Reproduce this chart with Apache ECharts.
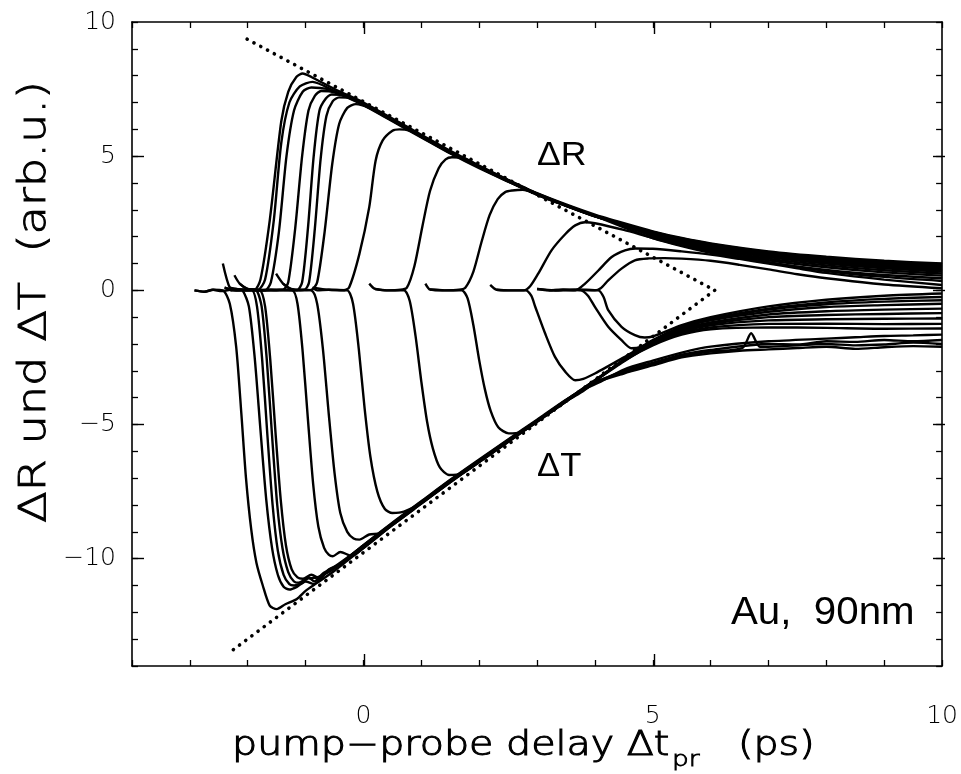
<!DOCTYPE html>
<html><head><meta charset="utf-8">
<script src="https://cdn.jsdelivr.net/npm/echarts@6/dist/echarts.min.js"></script>
<style>html,body{margin:0;padding:0;background:#fff}#c{width:961px;height:774px}</style>
</head><body><div id="c"></div>
<script>
// ---- tick labels ----
const xMajorTicks = [0, 5];
const xTickLabels = [0, 5, 10];
const yMajorTicks = [-10, -5, 0, 5];
const yTickLabels = [-10, -5, 0, 5, 10];

// ---- dotted guide lines (delta R / delta T maxima) ----
const dotR = [[-2.01, 9.36], [6.07, 0]];
const dotT = [[6.07, 0], [-2.26, -13.41]];

// ---- delta R curves ----
const R01 = [[-2.92,0],[-2.75,-0.05],[-2.6,0.02],[-2.45,-0.03],[-2.3,0.02],[-2.1,0],[-1.88,0.02],[-1.78,0.4],[-1.62,2.6],[-1.42,6.3],[-1.3,7.4],[-1.16,7.95],[-1.05,8.08],[-0.9,7.95],[-0.5,7.5],[0,7.0],[0.5,6.4],[1,5.8],[1.5,5.2],[2,4.65],[2.5,4.12],[3,3.62],[3.5,3.2],[4,2.82],[4.5,2.5],[5,2.2],[5.5,1.95],[6,1.75],[7,1.45],[8,1.25],[9,1.1],[10,1.0]];
const R02 = [[-2.43,1.0],[-2.31,0.1],[-2.2,0.05],[-2.0,0],[-1.82,0.02],[-1.7,0.4],[-1.55,2.6],[-1.42,5.5],[-1.28,7.0],[-1.1,7.6],[-0.88,7.77],[-0.5,7.42],[0,6.92],[0.5,6.32],[1,5.72],[1.5,5.12],[2,4.58],[2.5,4.06],[3,3.58],[3.5,3.17],[4,2.78],[4.5,2.46],[5,2.18],[5.5,1.93],[6,1.73],[7,1.42],[8,1.21],[9,1.06],[10,0.95]];
const R03 = [[-2.4,0.1],[-2.2,0],[-1.95,0.02],[-1.7,0],[-1.6,0.3],[-1.46,2.2],[-1.33,5.0],[-1.2,6.7],[-1.05,7.4],[-0.9,7.56],[-0.6,7.5],[-0.5,7.4],[0,6.9],[0.5,6.3],[1,5.7],[1.5,5.1],[2,4.55],[2.5,4.05],[3,3.56],[3.5,3.15],[4,2.76],[4.5,2.45],[5,2.17],[5.5,1.91],[6,1.7],[7,1.38],[8,1.17],[9,1.01],[10,0.9]];
const R04 = [[-2.23,0.56],[-2.14,0.25],[-2.0,0.05],[-1.7,0],[-1.39,0.02],[-1.3,0.3],[-1.18,2.3],[-1.06,5.0],[-0.95,6.7],[-0.84,7.25],[-0.73,7.43],[-0.5,7.38],[0,6.95],[0.5,6.35],[1,5.75],[1.5,5.15],[2,4.6],[2.5,4.08],[3,3.58],[3.5,3.16],[4,2.77],[4.5,2.45],[5,2.15],[5.5,1.89],[6,1.67],[7,1.35],[8,1.13],[9,0.96],[10,0.85]];
const R05 = [[-2.3,0],[-2.0,0.03],[-1.6,0],[-1.3,0.02],[-1.15,0],[-1.06,0.3],[-0.96,2.3],[-0.86,5.0],[-0.76,6.7],[-0.65,7.15],[-0.55,7.3],[-0.3,7.25],[0,6.97],[0.5,6.37],[1,5.77],[1.5,5.17],[2,4.62],[2.5,4.1],[3,3.6],[3.5,3.18],[4,2.79],[4.5,2.47],[5,2.13],[5.5,1.87],[6,1.65],[7,1.32],[8,1.09],[9,0.92],[10,0.8]];
const R06 = [[-1.9,0],[-1.6,0.02],[-1.3,0],[-1.02,0.02],[-0.94,0.3],[-0.84,2.3],[-0.74,4.9],[-0.64,6.5],[-0.53,7.05],[-0.42,7.19],[-0.2,7.15],[0,6.95],[0.5,6.33],[1,5.73],[1.5,5.13],[2,4.58],[2.5,4.07],[3,3.57],[3.5,3.15],[4,2.76],[4.5,2.44],[5,2.1],[5.5,1.84],[6,1.62],[7,1.28],[8,1.05],[9,0.87],[10,0.75]];
const R07 = [[-1.51,0.62],[-1.39,0.25],[-1.25,0.05],[-1.1,0],[-0.9,0.02],[-0.8,0.3],[-0.67,2.2],[-0.54,4.7],[-0.42,6.2],[-0.28,6.8],[-0.13,6.94],[0.1,6.8],[0.5,6.36],[1,5.76],[1.5,5.16],[2,4.61],[2.5,4.09],[3,3.59],[3.5,3.17],[4,2.78],[4.5,2.45],[5,2.07],[5.5,1.8],[6,1.58],[7,1.24],[8,1.0],[9,0.82],[10,0.7]];
const R08 = [[-0.88,0.1],[-0.8,0],[-0.6,0.02],[-0.36,0],[-0.25,0.1],[-0.07,1.36],[0.1,3.1],[0.21,4.83],[0.33,5.58],[0.5,5.95],[0.62,6.0],[0.8,5.95],[1,5.75],[1.5,5.15],[2,4.6],[2.5,4.08],[3,3.58],[3.5,3.16],[4,2.77],[4.5,2.43],[5,2.02],[5.5,1.75],[6,1.53],[7,1.18],[8,0.93],[9,0.75],[10,0.63]];
const R09 = [[0.1,0.25],[0.2,0.05],[0.4,0],[0.64,0.02],[0.75,0.1],[0.88,0.9],[1.02,2.4],[1.15,3.7],[1.3,4.55],[1.42,4.88],[1.53,4.96],[1.7,4.95],[2,4.62],[2.5,4.1],[3,3.6],[3.5,3.18],[4,2.79],[4.5,2.4],[5,2.05],[5.5,1.75],[6,1.48],[7,1.12],[8,0.86],[9,0.67],[10,0.55]];
const R10 = [[1.07,0.25],[1.15,0.03],[1.4,0],[1.65,0.02],[1.76,0.1],[1.9,0.7],[2.04,1.8],[2.18,2.8],[2.32,3.4],[2.45,3.66],[2.57,3.72],[2.75,3.75],[3,3.6],[3.5,3.17],[4,2.77],[4.5,2.35],[5,1.95],[5.5,1.65],[6,1.4],[7,1.03],[8,0.76],[9,0.57],[10,0.45]];
const R11 = [[2.19,0.2],[2.3,0.02],[2.5,0],[2.77,0],[2.88,0.15],[3.02,0.62],[3.25,1.49],[3.49,2.1],[3.66,2.42],[3.83,2.54],[4.0,2.5],[4.5,2.25],[5,1.95],[5.5,1.68],[6,1.45],[7,1.05],[8,0.72],[9,0.5],[10,0.35]];
const R12 = [[3.0,0.05],[3.2,0],[3.45,0.02],[3.66,0],[3.83,0.25],[4.06,0.74],[4.29,1.24],[4.52,1.49],[4.7,1.56],[5,1.55],[5.5,1.45],[6,1.33],[6.5,1.17],[7,1.0],[7.5,0.82],[8,0.65],[9,0.4],[10,0.2]];
const R13 = [[3.0,0.05],[3.3,0],[3.7,0.02],[4.0,0],[4.1,0.08],[4.23,0.37],[4.46,0.81],[4.69,1.12],[4.93,1.19],[5.2,1.2],[5.5,1.18],[6,1.1],[6.5,0.95],[7,0.78],[7.5,0.6],[8,0.45],[9,0.22],[10,0.08]];

// ---- delta T curves ----
const T01 = [[-2.92,0],[-2.75,-0.05],[-2.6,0.02],[-2.43,0],[-2.31,-0.5],[-2.2,-2.1],[-2.11,-4.6],[-2.03,-7.0],[-1.94,-8.9],[-1.85,-10.15],[-1.74,-11.0],[-1.62,-11.75],[-1.5,-11.88],[-1.35,-11.7],[-1.15,-11.5],[-1.0,-11.2],[-0.8,-10.9],[-0.5,-10.45],[0,-9.6],[0.5,-8.75],[1,-7.95],[1.5,-7.15],[2,-6.4],[2.5,-5.65],[3,-4.9],[3.5,-4.15],[3.8,-3.75],[4.0,-3.45],[4.5,-3.1],[5,-2.8],[5.5,-2.5],[6,-2.35],[6.5,-2.25],[7,-2.2],[7.5,-2.15],[8,-2.1],[8.5,-2.18],[9,-2.12],[9.5,-2.08],[10,-2.1]];
const T02 = [[-2.31,0.1],[-2.2,0.05],[-2.09,0],[-1.98,-0.6],[-1.88,-2.5],[-1.78,-5.2],[-1.68,-7.8],[-1.58,-9.6],[-1.48,-10.6],[-1.38,-11.05],[-1.28,-11.15],[-1.15,-11.05],[-1.0,-10.85],[-0.85,-10.95],[-0.7,-10.6],[-0.5,-10.35],[0,-9.5],[0.5,-8.68],[1,-7.88],[1.5,-7.08],[2,-6.33],[2.5,-5.58],[3,-4.85],[3.5,-4.1],[3.8,-3.7],[4.0,-3.42],[4.5,-3.05],[5,-2.75],[5.5,-2.45],[6,-2.28],[6.55,-2.15],[6.7,-1.6],[6.85,-2.1],[7,-2.1],[8,-2.0],[8.5,-2.05],[9,-2.02],[9.5,-1.95],[10,-2.0]];
const T03 = [[-2.4,0.1],[-2.2,0],[-1.93,0],[-1.84,-0.6],[-1.75,-2.6],[-1.66,-5.4],[-1.57,-8.0],[-1.48,-9.7],[-1.38,-10.6],[-1.28,-10.95],[-1.2,-11.0],[-1.05,-10.9],[-0.95,-10.7],[-0.85,-10.85],[-0.7,-10.55],[-0.5,-10.3],[0,-9.52],[0.5,-8.72],[1,-7.9],[1.5,-7.12],[2,-6.36],[2.5,-5.62],[3,-4.86],[3.5,-4.12],[3.8,-3.72],[4.0,-3.45],[4.5,-3.0],[5,-2.7],[5.5,-2.4],[6,-2.22],[7,-2.0],[7.5,-2.02],[8,-1.9],[8.5,-1.92],[9,-1.85],[9.5,-1.9],[10,-1.85]];
const T04 = [[-2.14,0.25],[-2.0,0.05],[-1.85,0],[-1.76,-0.6],[-1.67,-2.6],[-1.58,-5.4],[-1.49,-8.0],[-1.4,-9.6],[-1.3,-10.5],[-1.2,-10.85],[-1.12,-10.9],[-0.98,-10.75],[-0.8,-10.7],[-0.6,-10.5],[-0.3,-10.05],[0,-9.58],[0.5,-8.7],[1,-7.92],[1.5,-7.1],[2,-6.35],[2.5,-5.6],[3,-4.85],[3.5,-4.1],[4,-3.35],[4.5,-2.62],[5,-2.05],[5.5,-1.65],[6,-1.45],[7,-1.38],[8,-1.4],[9,-1.43],[10,-1.42]];
const T05 = [[-2.3,0],[-2.0,0.03],[-1.79,0],[-1.7,-0.6],[-1.61,-2.6],[-1.52,-5.3],[-1.43,-7.8],[-1.34,-9.5],[-1.24,-10.4],[-1.14,-10.7],[-1.05,-10.75],[-0.9,-10.6],[-0.75,-10.75],[-0.6,-10.4],[-0.4,-10.2],[0,-9.5],[0.5,-8.66],[1,-7.86],[1.5,-7.06],[2,-6.3],[2.5,-5.56],[3,-4.82],[3.5,-4.08],[3.8,-3.7],[4.1,-3.4],[4.5,-2.95],[5,-2.62],[5.5,-2.32],[6,-2.1],[7,-1.9],[8,-1.8],[8.5,-1.75],[9,-1.7],[9.5,-1.68],[10,-1.65]];
const T06 = [[-1.9,0],[-1.6,0.02],[-1.23,0],[-1.14,-0.5],[-1.05,-2.3],[-0.96,-4.8],[-0.87,-7.2],[-0.78,-8.8],[-0.68,-9.6],[-0.6,-9.85],[-0.53,-9.91],[-0.4,-9.75],[-0.2,-9.9],[0,-9.6],[0.5,-8.75],[1,-7.95],[1.5,-7.15],[2,-6.38],[2.5,-5.63],[3,-4.88],[3.5,-4.13],[4,-3.38],[4.5,-2.65],[5,-2.02],[5.5,-1.6],[6,-1.38],[7,-1.25],[8,-1.24],[9,-1.26],[10,-1.25]];
const T07 = [[-1.39,0.25],[-1.25,0.05],[-0.9,0],[-0.8,-0.5],[-0.7,-2.2],[-0.6,-4.6],[-0.5,-6.8],[-0.4,-8.3],[-0.28,-9.0],[-0.17,-9.25],[-0.07,-9.29],[0.1,-9.1],[0.3,-9.05],[0.5,-8.7],[1,-7.9],[1.5,-7.1],[2,-6.35],[2.5,-5.6],[3,-4.85],[3.5,-4.1],[4,-3.35],[4.5,-2.62],[5,-2.0],[5.5,-1.55],[6,-1.3],[7,-1.12],[8,-1.08],[9,-1.06],[10,-1.05]];
const T08 = [[-0.88,0.1],[-0.6,0.02],[-0.28,0],[-0.18,-0.5],[-0.08,-2.2],[0.02,-4.4],[0.12,-6.2],[0.24,-7.5],[0.37,-8.15],[0.5,-8.3],[0.7,-8.25],[1,-7.92],[1.5,-7.12],[2,-6.37],[2.5,-5.62],[3,-4.87],[3.5,-4.12],[4,-3.37],[4.5,-2.6],[5,-1.98],[5.5,-1.5],[6,-1.25],[7,-1.0],[8,-0.92],[9,-0.88],[10,-0.85]];
const T09 = [[0.2,0.05],[0.4,0],[0.7,0],[0.8,-0.4],[0.9,-1.7],[1.0,-3.4],[1.1,-4.9],[1.2,-5.9],[1.32,-6.6],[1.48,-6.88],[1.7,-6.82],[2,-6.4],[2.5,-5.64],[3,-4.88],[3.5,-4.13],[4,-3.38],[4.5,-2.6],[5,-1.95],[5.5,-1.45],[6,-1.2],[7,-0.9],[8,-0.78],[9,-0.72],[10,-0.68]];
const T10 = [[1.15,0.03],[1.4,0],[1.7,0],[1.8,-0.3],[1.9,-1.3],[2.0,-2.6],[2.1,-3.7],[2.2,-4.5],[2.33,-5.1],[2.51,-5.33],[2.7,-5.3],[3,-4.9],[3.5,-4.14],[4,-3.38],[4.5,-2.58],[5,-1.9],[5.5,-1.4],[6,-1.12],[7,-0.8],[8,-0.62],[9,-0.55],[10,-0.5]];
const T11 = [[2.3,0.02],[2.5,0],[2.8,0],[2.9,-0.2],[2.97,-0.62],[3.14,-1.61],[3.31,-2.48],[3.49,-3.04],[3.66,-3.35],[3.8,-3.3],[4.0,-3.1],[4.5,-2.5],[5,-1.88],[5.5,-1.38],[6,-1.1],[7,-0.72],[8,-0.52],[9,-0.42],[10,-0.37]];
const T12 = [[3.2,0],[3.45,0.02],[3.76,0],[3.88,-0.2],[4.0,-0.62],[4.23,-1.36],[4.46,-1.86],[4.63,-2.16],[4.8,-2.1],[5,-1.85],[5.5,-1.35],[6,-1.05],[7,-0.68],[8,-0.45],[9,-0.32],[10,-0.25]];
const T13 = [[3.3,0],[3.7,0.02],[4.06,0],[4.15,-0.25],[4.23,-0.74],[4.46,-1.36],[4.69,-1.67],[4.86,-1.76],[5.0,-1.72],[5.5,-1.3],[6,-1.0],[7,-0.6],[8,-0.35],[9,-0.2],[10,-0.12]];

const curvesR = [R01,R02,R03,R04,R05,R06,R07,R08,R09,R10,R11,R12,R13];
const curvesT = [T01,T02,T03,T04,T05,T06,T07,T08,T09,T10,T11,T12,T13];

// ---- texts ----
const xTitleMain = 'pump\u2212probe delay \u0394t';
const xTitleSub = 'pr';
const xTitleUnit = '(ps)';
const yTitle = '\u0394R und \u0394T  (arb.u.)';
const labelR = '\u0394R';
const labelT = '\u0394T';
const sampleLabel = 'Au,  90nm';

const FONT = '"DejaVu Sans", sans-serif';
const fmt = v => (v < 0 ? '\u2212' + (-v) : String(v));

function lineSeries(d) {
  return { type:'line', data:d, xAxisIndex:0, yAxisIndex:0, showSymbol:false, symbol:'none',
    smooth:0.25, lineStyle:{ color:'#000', width:2.4 }, silent:true, z:3 };
}
const series = [];
curvesR.forEach(d => series.push(lineSeries(d)));
curvesT.forEach(d => series.push(lineSeries(d)));
[dotR, dotT].forEach(d => series.push({ type:'line', data:d, xAxisIndex:0, yAxisIndex:0, showSymbol:false, symbol:'none',
  lineStyle:{ color:'#000', width:3.6, type:[0.1, 7.6], cap:'round' }, silent:true, z:2 }));

const axisLineStyle = { show:true, onZero:false, lineStyle:{ color:'#000', width:1.6 } };
const noLine = { show:false, onZero:false };
const minorTick = { show:true, inside:true, length:6, lineStyle:{ color:'#000', width:1.3 } };
const majorTick = (vals) => ({ show:true, inside:true, length:12, customValues:vals, lineStyle:{ color:'#000', width:1.4 } });
const xBase = { type:'value', min:-4, max:10, interval:1, splitLine:{show:false} };
const yBase = { type:'value', min:-14, max:10, interval:1, splitLine:{show:false} };

const titleStyle = (text, size, extra) => Object.assign({ text:text, font:'200 ' + size + 'px "DejaVu Sans"', fill:'#000',
  stroke:'#000', lineWidth:1.0 }, extra || {});

const option = {
  animation:false,
  backgroundColor:'#fff',
  grid:[
    { left:132, top:22, width:813, height:644 },
    { left:132, top:22, width:813, height:644 }
  ],
  xAxis:[
    Object.assign({}, xBase, { gridIndex:0, position:'bottom', axisLine:axisLineStyle, axisTick:minorTick,
      axisLabel:{ show:true, color:'#000', fontSize:25, fontFamily:FONT, fontWeight:200, margin:38,
        formatter: v => (xTickLabels.indexOf(v) >= 0 ? fmt(v) : '') } }),
    Object.assign({}, xBase, { gridIndex:0, position:'top', axisLine:axisLineStyle, axisTick:minorTick, axisLabel:{show:false} }),
    Object.assign({}, xBase, { gridIndex:1, position:'bottom', axisLine:noLine, axisTick:majorTick(xMajorTicks), axisLabel:{show:false} }),
    Object.assign({}, xBase, { gridIndex:1, position:'top', axisLine:noLine, axisTick:majorTick(xMajorTicks), axisLabel:{show:false} })
  ],
  yAxis:[
    Object.assign({}, yBase, { gridIndex:0, position:'left', axisLine:axisLineStyle, axisTick:minorTick,
      axisLabel:{ show:true, color:'#000', fontSize:25, fontFamily:FONT, fontWeight:200, margin:16,
        formatter: v => (yTickLabels.indexOf(v) >= 0 ? fmt(v) : '') } }),
    Object.assign({}, yBase, { gridIndex:0, position:'right', axisLine:axisLineStyle, axisTick:minorTick, axisLabel:{show:false} }),
    Object.assign({}, yBase, { gridIndex:1, position:'left', axisLine:noLine, axisTick:majorTick(yMajorTicks), axisLabel:{show:false} }),
    Object.assign({}, yBase, { gridIndex:1, position:'right', axisLine:noLine, axisTick:majorTick(yMajorTicks), axisLabel:{show:false} })
  ],
  graphic:[
    { type:'text', x:232, y:746, scaleX:1.2, z:10, style:titleStyle(xTitleMain, 33, { align:'left', verticalAlign:'middle' }) },
    { type:'text', x:672, y:760, scaleX:1.2, z:10, style:titleStyle(xTitleSub, 22, { align:'left', verticalAlign:'middle', lineWidth:0.8 }) },
    { type:'text', x:738, y:746, scaleX:1.2, z:10, style:titleStyle(xTitleUnit, 33, { align:'left', verticalAlign:'middle' }) },
    { type:'text', x:35, y:302, rotation:Math.PI/2, scaleX:1.25, z:10, style:titleStyle(yTitle, 37, { align:'center', verticalAlign:'middle', lineWidth:0.9 }) },
    { type:'text', x:537, y:139, scaleX:1.08, z:10, style:{ text:labelR, font:'33px "Liberation Sans"', fill:'#000' } },
    { type:'text', x:537, y:450, scaleX:1.05, z:10, style:{ text:labelT, font:'33px "Liberation Sans"', fill:'#000' } },
    { type:'text', x:731, y:614, scaleX:1.06, z:10, style:{ text:sampleLabel, font:'38px "Liberation Sans"', fill:'#000', verticalAlign:'middle' } }
  ],
  series: series
};
const chart = echarts.init(document.getElementById('c'), null, { renderer:'canvas' });
chart.setOption(option);
</script>
</body></html>
